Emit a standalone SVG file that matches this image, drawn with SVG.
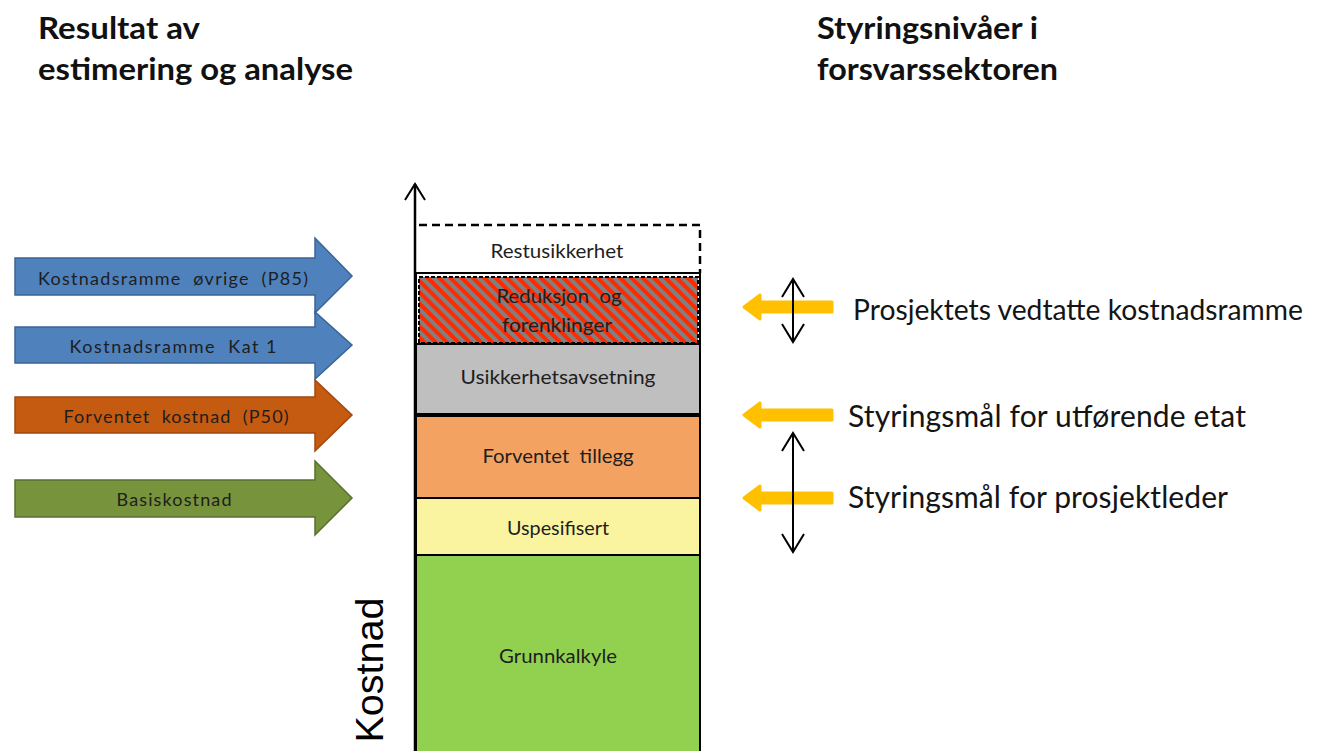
<svg xmlns="http://www.w3.org/2000/svg" width="1327" height="751" viewBox="0 0 1327 751">
<style>
.title{font-family:Lato,"Open Sans",sans-serif;font-weight:bold;font-size:30px;fill:#111}
.lbl{font-family:Lato,"Open Sans",sans-serif;font-size:18px;fill:#1e1e1e;text-anchor:middle}
.blbl{font-family:Lato,"Open Sans",sans-serif;font-size:18.5px;fill:#1e1e1e;text-anchor:middle}
.rlbl{font-family:Lato,"Open Sans",sans-serif;font-size:30px;fill:#141414}
.layer{stroke:#000;stroke-width:2}
.dbl{stroke:#000;stroke-width:2;fill:none}
.yarrow{fill:#FFC000;stroke:#FFC000;stroke-width:3;stroke-linejoin:round}
</style>
<defs>
<pattern id="hatch" patternUnits="userSpaceOnUse" width="8" height="8" patternTransform="rotate(-45)">
<rect x="0" y="0" width="8" height="8" fill="#808080"/>
<rect x="0" y="0" width="4" height="8" fill="#FF2A00"/>
</pattern>
</defs>

<g id="titles">
<text class="title" x="38" y="39" textLength="162" lengthAdjust="spacingAndGlyphs">Resultat av</text>
<text class="title" x="38" y="80" textLength="315" lengthAdjust="spacingAndGlyphs">estimering og analyse</text>
<text class="title" x="817" y="39" textLength="221" lengthAdjust="spacingAndGlyphs">Styringsnivåer i</text>
<text class="title" x="817" y="80" textLength="241" lengthAdjust="spacingAndGlyphs">forsvarssektoren</text>
</g>

<g id="arrow-p85">
<polygon points="15,258 315,258 315,238 352,276 315,313 315,295 15,295" fill="#4F81BD" stroke="#3A6496" stroke-width="1.5"/>
<text class="lbl" x="173" y="285" xml:space="preserve" textLength="270" lengthAdjust="spacing">Kostnadsramme  øvrige  (P85)</text>
</g>
<g id="arrow-kat1">
<polygon points="15,327 315,327 315,312 352,345 315,379 315,363 15,363" fill="#4F81BD" stroke="#3A6496" stroke-width="1.5"/>
<text class="lbl" x="173" y="353" xml:space="preserve" textLength="207" lengthAdjust="spacing">Kostnadsramme  Kat 1</text>
</g>
<g id="arrow-p50">
<polygon points="15,397 315,397 315,380 352,415 315,451 315,433 15,433" fill="#C55A11" stroke="#9E4A12" stroke-width="1.5"/>
<text class="lbl" x="176" y="423" xml:space="preserve" textLength="225" lengthAdjust="spacing">Forventet  kostnad  (P50)</text>
</g>
<g id="arrow-basis">
<polygon points="15,480 315,480 315,461 352,498 315,535 315,517 15,517" fill="#77933C" stroke="#5A7030" stroke-width="1.5"/>
<text class="lbl" x="174" y="506" textLength="115" lengthAdjust="spacing">Basiskostnad</text>
</g>

<g id="layer-grunnkalkyle">
<rect class="layer" x="416" y="555" width="284" height="210" fill="#92D050"/>
<text class="blbl" x="558" y="663" textLength="118" lengthAdjust="spacingAndGlyphs">Grunnkalkyle</text>
</g>
<g id="layer-uspesifisert">
<rect class="layer" x="416" y="498" width="284" height="57" fill="#FAF4A1"/>
<text class="blbl" x="558" y="535" textLength="102" lengthAdjust="spacingAndGlyphs">Uspesifisert</text>
</g>
<g id="layer-forventet-tillegg">
<rect class="layer" x="416" y="416" width="284" height="82" fill="#F4A261"/>
<text class="blbl" x="558" y="463" xml:space="preserve" textLength="151" lengthAdjust="spacingAndGlyphs">Forventet  tillegg</text>
</g>
<g id="layer-usikkerhetsavsetning">
<rect class="layer" x="416" y="344" width="284" height="70" fill="#BFBFBF"/>
<text class="blbl" x="558" y="384" textLength="195" lengthAdjust="spacingAndGlyphs">Usikkerhetsavsetning</text>
</g>
<g id="layer-reduksjon">
<rect x="416" y="273" width="284" height="71" fill="#fff" stroke="#000" stroke-width="2"/>
<rect x="419" y="277" width="279" height="66" fill="url(#hatch)" stroke="#000" stroke-width="2" stroke-dasharray="4 2"/>
<text class="blbl" x="559" y="303" xml:space="preserve" textLength="125" lengthAdjust="spacingAndGlyphs">Reduksjon  og</text>
<text class="blbl" x="557" y="332" textLength="110" lengthAdjust="spacingAndGlyphs">forenklinger</text>
</g>
<g id="layer-restusikkerhet">
<path d="M419,225 H700 V273" fill="none" stroke="#000" stroke-width="2.5" stroke-dasharray="8 5"/>
<text class="blbl" x="557" y="258" textLength="133" lengthAdjust="spacingAndGlyphs">Restusikkerhet</text>
</g>

<g id="axis">
<line x1="415" y1="184" x2="415" y2="751" stroke="#000" stroke-width="2.5"/>
<polyline points="405,200 415,184 425,200" fill="none" stroke="#000" stroke-width="2"/>
<text x="0" y="0" transform="translate(383,670) rotate(-90)" text-anchor="middle" font-family="'Liberation Sans',Arial,sans-serif" font-size="38" fill="#000" textLength="145" lengthAdjust="spacingAndGlyphs">Kostnad</text>
</g>

<g id="connectors">
<g id="yarrow-1">
<path class="yarrow" d="M744,307 L760,295 L760,302 L832,302 L832,312 L760,312 L760,319 Z"/>
</g>
<g id="yarrow-2">
<path class="yarrow" d="M744,415 L760,403 L760,410 L832,410 L832,420 L760,420 L760,427 Z"/>
</g>
<g id="yarrow-3">
<path class="yarrow" d="M744,498 L760,486 L760,493 L832,493 L832,503 L760,503 L760,510 Z"/>
</g>
<g id="dblarrow-1">
<line class="dbl" x1="793" y1="279" x2="793" y2="342"/>
<polyline class="dbl" points="782,297 793,279 804,297"/>
<polyline class="dbl" points="782,324 793,342 804,324"/>
</g>
<g id="dblarrow-2">
<line class="dbl" x1="793" y1="433" x2="793" y2="552"/>
<polyline class="dbl" points="782,451 793,433 804,451"/>
<polyline class="dbl" points="782,534 793,552 804,534"/>
</g>
</g>

<g id="right-labels">
<text class="rlbl" x="853" y="320" style="font-size:28px" textLength="450" lengthAdjust="spacingAndGlyphs">Prosjektets vedtatte kostnadsramme</text>
<text class="rlbl" x="848" y="427" textLength="398" lengthAdjust="spacing">Styringsmål for utførende etat</text>
<text class="rlbl" x="848" y="508" textLength="380" lengthAdjust="spacing">Styringsmål for prosjektleder</text>
</g>
</svg>
